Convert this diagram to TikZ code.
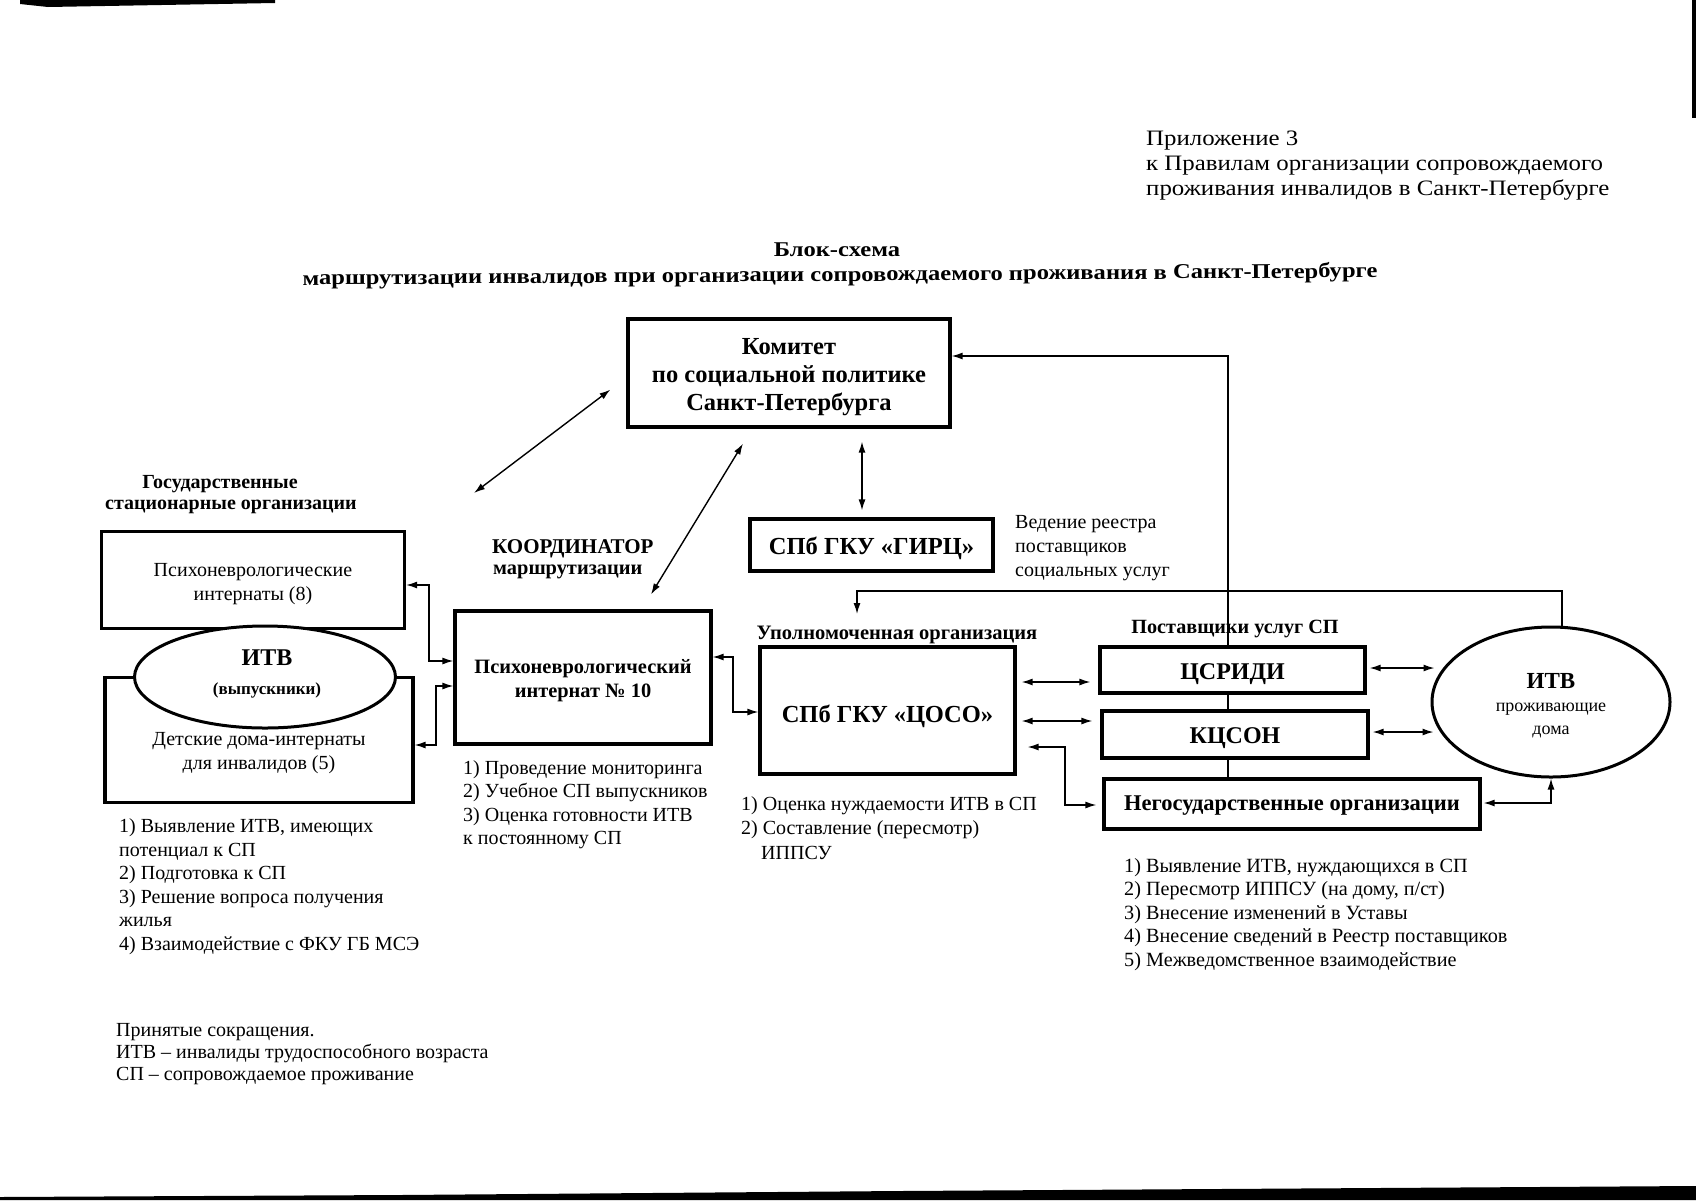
\documentclass[tikz,border=0pt]{standalone}
\usepackage{fontspec}
\setmainfont{Liberation Serif}
\newfontfamily\wideserif[FakeStretch=1.13]{Liberation Serif}
\newfontfamily\widerserif[FakeStretch=1.17]{Liberation Serif}
\usetikzlibrary{arrows.meta,shapes.geometric}
\newcommand{\fs}[2]{\fontsize{#1}{#2}\selectfont}
\begin{document}
\begin{tikzpicture}[x=1pt,y=-1pt,
  box/.style={draw,line width=3.2pt,fill=white,inner sep=0pt},
  oval/.style={draw,ellipse,line width=3pt,fill=white,inner sep=0pt},
  conn/.style={line width=1.4pt},
  dbl/.style={conn,{Latex[length=11pt,width=7pt]}-{Latex[length=11pt,width=7pt]}},
  one/.style={conn,-{Latex[length=11pt,width=7pt]}},
  lst/.style={inner sep=0pt,anchor=north west,align=left,font=\fs{20}{23.5}},
  lbl/.style={inner sep=0pt,align=center},
]
\useasboundingbox (0,0) rectangle (1696,1200);
\fill[white] (0,0) rectangle (1696,1200);
% scan edges
\fill[black] (20,0) -- (275,0) -- (275,3) -- (48,7) -- (20,4) -- cycle;
\fill[black] (1692,0) rectangle (1696,118);
\fill[black] (0,1197) -- (400,1195) -- (900,1191) -- (1696,1186) -- (1696,1200) -- (0,1200) -- cycle;

% header
\node[inner sep=0pt,anchor=north west,align=left,font=\wideserif\fs{22}{25}] (app) at (1146,131)
  {Приложение 3\\к Правилам организации сопровождаемого\\проживания инвалидов в Санкт-Петербурге};
\node[lbl,font=\widerserif\bfseries\fs{21}{24}] (t1) at (837,250) {Блок-схема};
\node[lbl,rotate=0.4,font=\widerserif\bfseries\fs{21}{24}] (t2) at (840,276) {маршрутизации инвалидов при организации сопровождаемого проживания в Санкт-Петербурге};

% committee
\node[box,minimum width=322pt,minimum height=108pt] (kom) at (789,373) {};
\node[lbl,font=\bfseries\fs{24.5}{28}] (komt) at (789,377) {Комитет\\по социальной политике\\Санкт-Петербурга};
% feedback line from providers to committee
\coordinate (fbbot) at (1228,779);
\coordinate (fbturn) at (1228,356);
\draw[one] (fbbot) -- (fbturn) -- (kom.east |- fbturn);

% GIRC
\node[box,minimum width=243pt,minimum height=52pt] (girc) at (871.5,545) {};
\node[lbl,font=\bfseries\fs{24.5}{28}] (girct) at (871.5,548) {СПб ГКУ «ГИРЦ»};
\node[inner sep=0pt,anchor=north west,align=left,font=\fs{20}{24}] (reestr) at (1015,515)
  {Ведение реестра\\поставщиков\\социальных услуг};

% left group
\node[lbl,font=\bfseries\fs{20}{23}] (gso1) at (220,484) {Государственные};
\node[lbl,font=\bfseries\fs{20}{23}] (gso2) at (231,507) {стационарные организации};
\node[box,minimum width=303pt,minimum height=97pt] (pni8) at (253,580) {};
\node[lbl,font=\fs{20}{24}] (pni8t) at (253,584) {Психоневрологические\\интернаты (8)};
\node[box,minimum width=308pt,minimum height=125pt] (det) at (259,740) {};
\node[lbl,font=\fs{20}{23.8}] (dett) at (259,753) {Детские дома-интернаты\\для инвалидов (5)};
\node[oval,minimum width=261pt,minimum height=102pt] (itvl) at (265,677) {};
\node[lbl,font=\bfseries\fs{24}{28}] (itvlt) at (267,658) {ИТВ};
\node[lbl,font=\bfseries\fs{17}{20}] (itvls) at (267,690) {(выпускники)};
\node[lst] (lstl) at (119,818.5) {1) Выявление ИТВ, имеющих\\потенциал к СП\\2) Подготовка к СП\\3) Решение вопроса получения\\жилья\\4) Взаимодействие с ФКУ ГБ МСЭ};

% coordinator
\node[inner sep=0pt,anchor=west,font=\bfseries\fs{21}{24}] (koord) at (492,549) {КООРДИНАТОР};
\node[inner sep=0pt,anchor=west,font=\bfseries\fs{20.4}{24}] (marsh) at (493,572) {маршрутизации};
\node[box,minimum width=256pt,minimum height=133pt] (pni10) at (583,677.5) {};
\node[lbl,font=\bfseries\fs{20.4}{24}] (pni10t) at (583,681) {Психоневрологический\\интернат № 10};
\node[lst] (lst10) at (463,760) {1) Проведение мониторинга\\2) Учебное СП выпускников\\3) Оценка готовности ИТВ\\к постоянному СП};

% COSO
\node[lbl,font=\bfseries\fs{20.5}{22}] (upol) at (897,635) {Уполномоченная организация};
\node[box,minimum width=255pt,minimum height=127pt] (coso) at (887.5,710.5) {};
\node[lbl,font=\bfseries\fs{24.5}{28}] (cosot) at (887.5,716) {СПб ГКУ «ЦОСО»};
\node[lst,font=\fs{20}{24.5}] (lstc) at (741,796) {1) Оценка нуждаемости ИТВ в СП\\2) Составление (пересмотр)\\\hspace*{20pt}ИППСУ};

% providers
\node[lbl,font=\bfseries\fs{20.2}{22}] (post) at (1235,629) {Поставщики услуг СП};
\node[box,minimum width=265pt,minimum height=46pt] (csr) at (1232.5,670) {};
\node[lbl,font=\bfseries\fs{24}{28}] (csrt) at (1232.5,674) {ЦСРИДИ};
\node[box,minimum width=266pt,minimum height=47pt] (kcs) at (1235,734.5) {};
\node[lbl,font=\bfseries\fs{24}{28}] (kcst) at (1235,738) {КЦСОН};
\node[box,minimum width=376pt,minimum height=50pt] (neg) at (1292,804) {};
\node[lbl,font=\bfseries\fs{22.5}{26}] (negt) at (1292,806) {Негосударственные организации};
\node[oval,minimum width=238pt,minimum height=150pt] (itvr) at (1551,702) {};
\node[lbl,font=\bfseries\fs{23}{26}] (itvrt) at (1551,681) {ИТВ};
\node[lbl,font=\fs{18}{23}] (itvrs) at (1551,720) {проживающие\\дома};
\node[lst,font=\fs{20.2}{23.5}] (lstr) at (1124,858) {1) Выявление ИТВ, нуждающихся в СП\\2) Пересмотр ИППСУ (на дому, п/ст)\\3) Внесение изменений в Уставы\\4) Внесение сведений в Реестр поставщиков\\5) Межведомственное взаимодействие};

% legend
\node[inner sep=0pt,anchor=north west,align=left,font=\fs{20}{22}] (leg) at (116,1023.5)
  {Принятые сокращения.\\ИТВ – инвалиды трудоспособного возраста\\СП – сопровождаемое проживание};

% connectors
\coordinate (gsotip) at (474,493);
\draw[dbl] (gsotip) -- ([shift={(-16,-39)}]kom.south west);
\draw[dbl] ([shift={(-46,15)}]kom.south) -- ([shift={(68,-15)}]pni10.north);
\draw[dbl] ([shift={(73,13)}]kom.south) -- ([shift={(-9.5,-7)}]girc.north);
\draw[dbl] (pni8.east |- 0,585) -- (429,585) |- (pni10.west |- 0,661);
\draw[dbl] (det.east |- 0,745) -- (436,745) |- (pni10.west |- 0,686);
\draw[dbl] (pni10.east |- 0,657) -- (733,657) |- (coso.west |- 0,712);
\draw[dbl,shorten <=5pt,shorten >=8pt] (coso.east |- 0,682) -- (csr.west |- 0,682);
\draw[dbl,shorten <=5pt,shorten >=8pt] (coso.east |- 0,721) -- (kcs.west |- 0,721);
\draw[dbl,shorten <=11pt,shorten >=6pt] (coso.east |- 0,747) -- (1065,747) |- (neg.west |- 0,805);
\draw[dbl,shorten <=3pt,shorten >=-4pt] (csr.east |- 0,668) -- (itvr.west |- 0,668);
\draw[dbl,shorten <=3pt,shorten >=-3pt] (kcs.east |- 0,732) -- (itvr.west |- 0,732);
\draw[dbl,shorten <=2pt] (neg.east |- 0,803) -| (itvr.south);
\coordinate (uptip) at (857,614);
\draw[one] ([xshift=11pt]itvr.north) -- ([xshift=11pt]itvr.north |- 0,591) -| (uptip);
\end{tikzpicture}
\end{document}
